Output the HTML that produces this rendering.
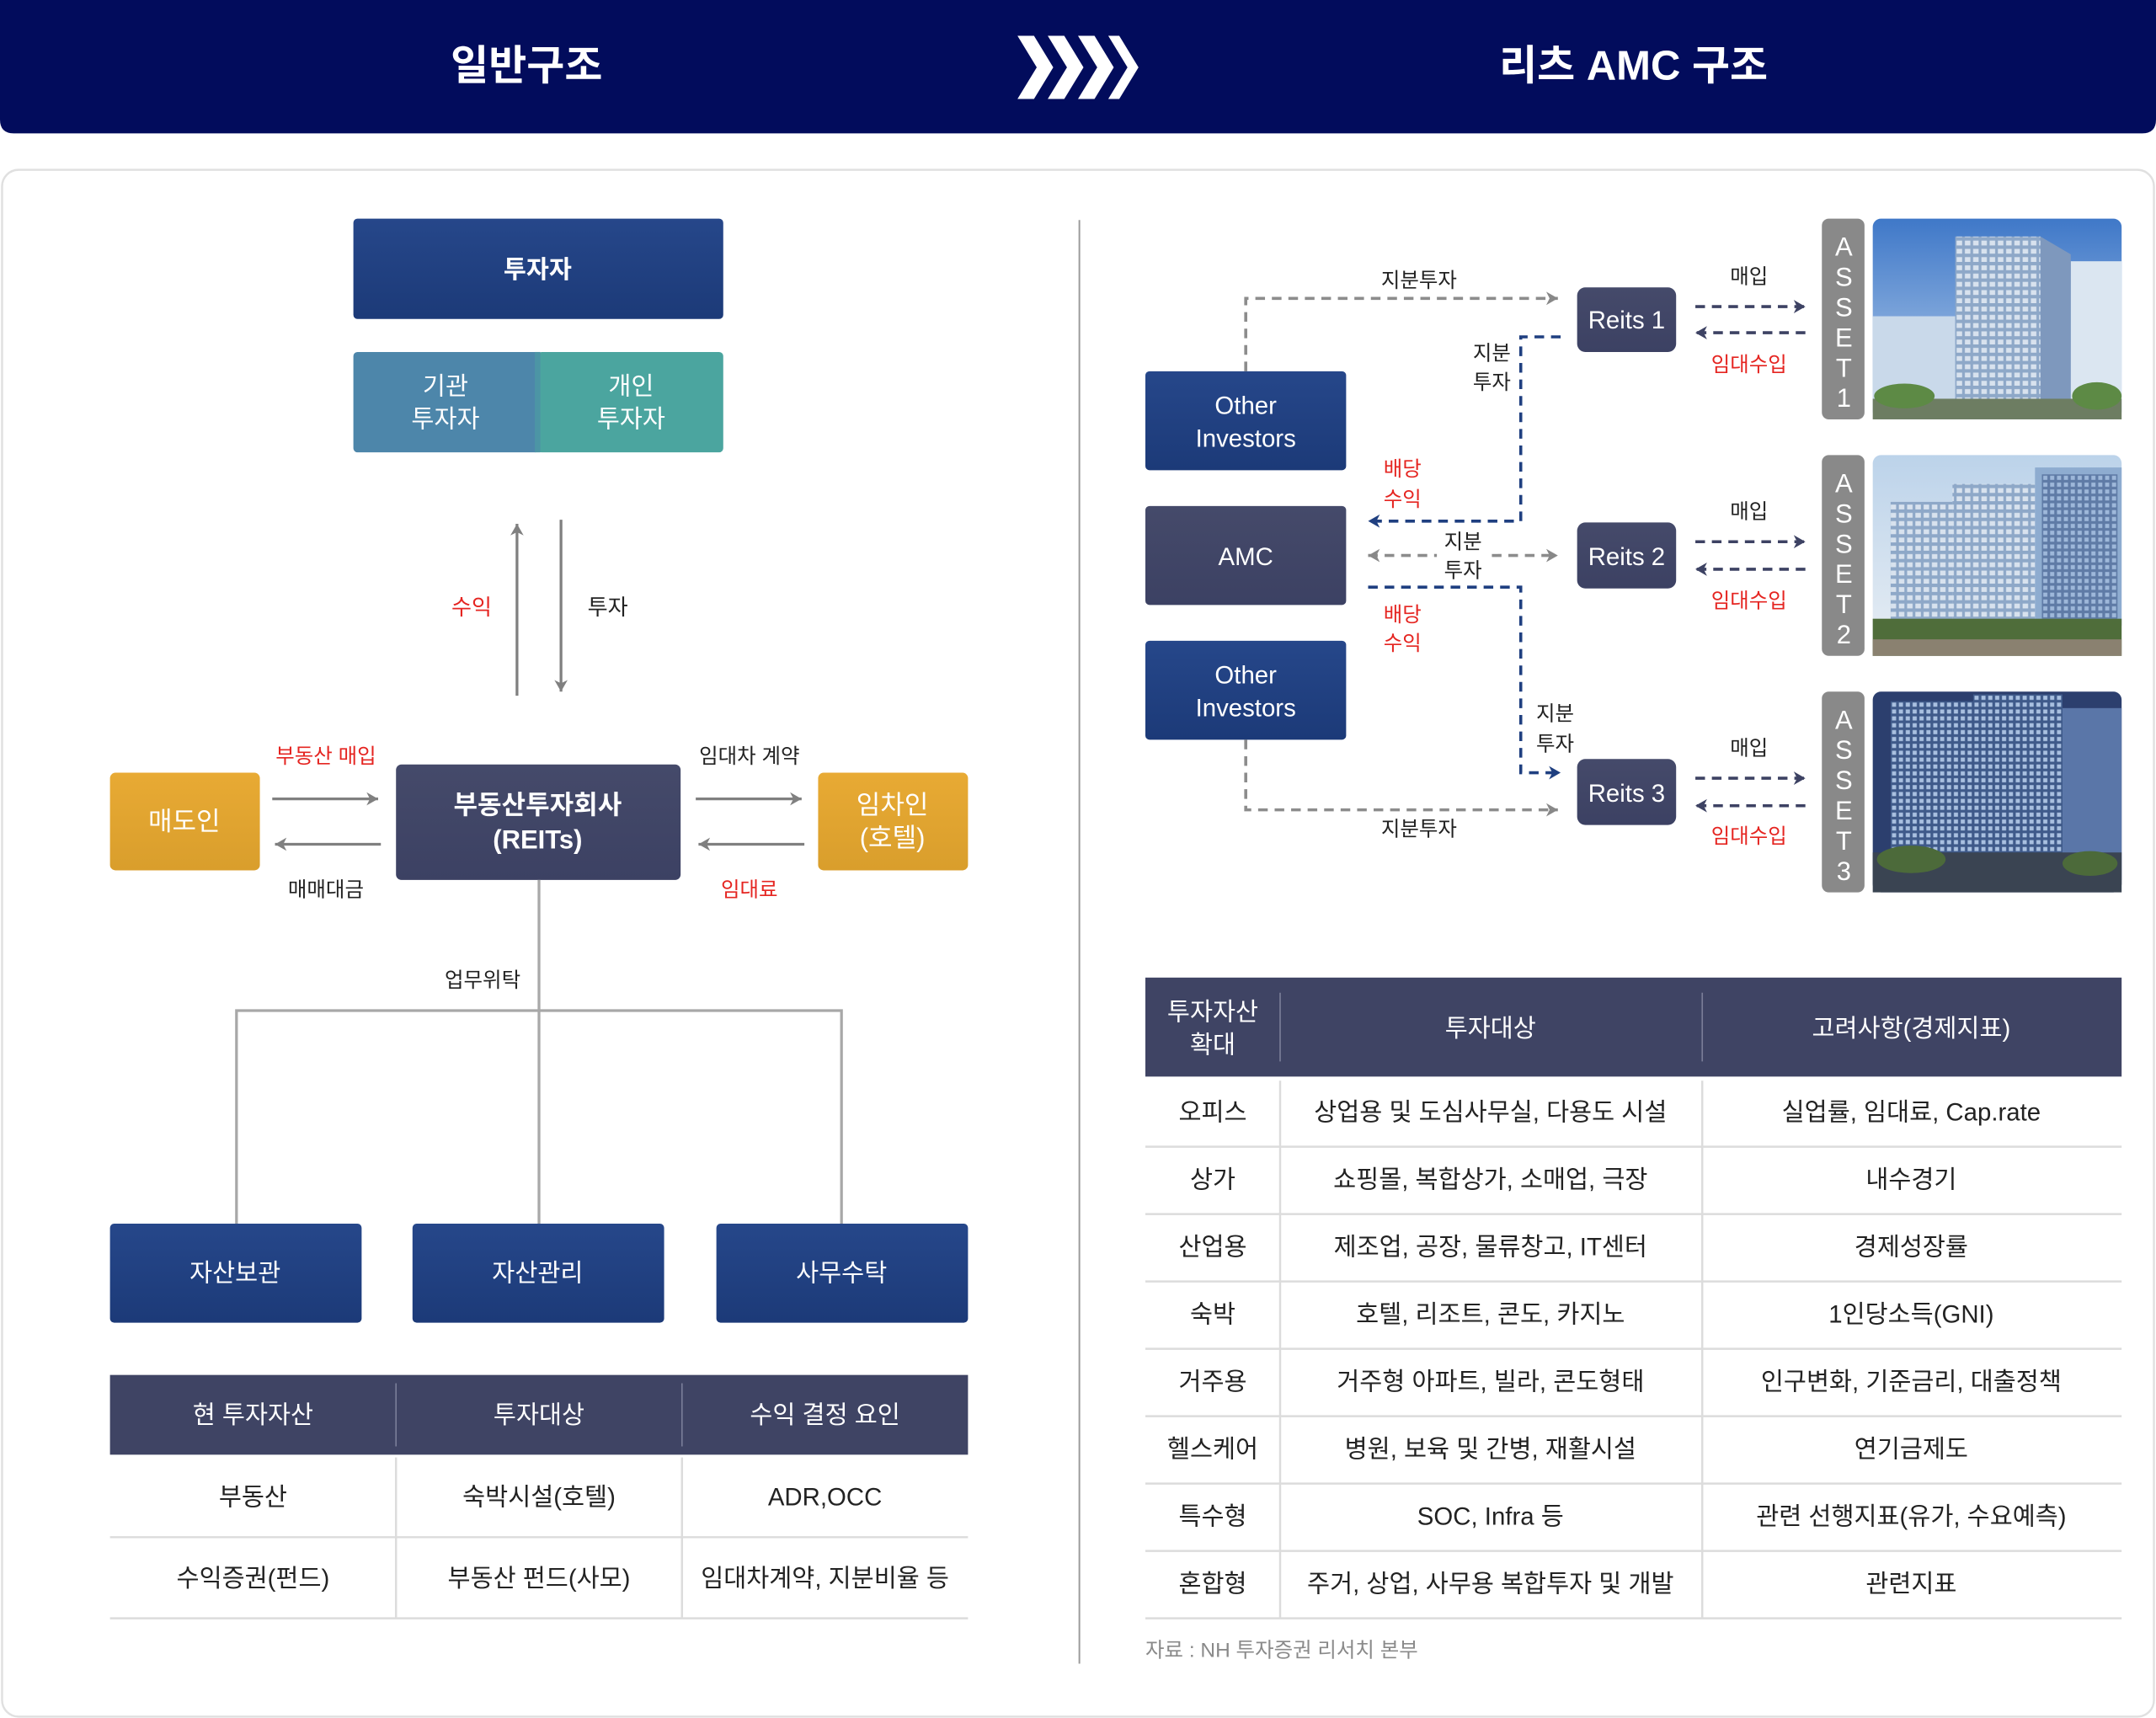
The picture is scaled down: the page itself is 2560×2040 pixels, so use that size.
<!DOCTYPE html>
<html><head><meta charset="utf-8"><style>
html,body{margin:0;padding:0;background:#fff;}
svg{display:block;}
text{font-family:"Liberation Sans","Noto Sans CJK KR",sans-serif;}
</style></head><body>
<svg width="2560" height="2040" viewBox="0 0 1568 1249.5" xmlns="http://www.w3.org/2000/svg">
<defs>
<linearGradient id="nv" x1="0" y1="0" x2="0" y2="1"><stop offset="0" stop-color="#26478a"/><stop offset="1" stop-color="#1c3a78"/></linearGradient>
<linearGradient id="sl" x1="0" y1="0" x2="0" y2="1"><stop offset="0" stop-color="#454a6a"/><stop offset="1" stop-color="#3c4163"/></linearGradient>
<linearGradient id="or" x1="0" y1="0" x2="0" y2="1"><stop offset="0" stop-color="#e8aa34"/><stop offset="1" stop-color="#d99e2c"/></linearGradient>
<linearGradient id="sky" x1="0" y1="0" x2="0" y2="1"><stop offset="0" stop-color="#3f78c8"/><stop offset="1" stop-color="#b8d0ec"/></linearGradient>
<linearGradient id="sky2" x1="0" y1="0" x2="0" y2="1"><stop offset="0" stop-color="#bcd3ea"/><stop offset="1" stop-color="#e8eef4"/></linearGradient>
<pattern id="win" width="6" height="6" patternUnits="userSpaceOnUse"><rect width="6" height="6" fill="#8ea8c8"/><rect x="1" y="1" width="4" height="3.5" fill="#d8e2ee"/></pattern>
<pattern id="win2" width="5" height="5" patternUnits="userSpaceOnUse"><rect width="5" height="5" fill="#3f5a8a"/><rect x="1" y="1" width="3" height="3" fill="#a9c0e0"/></pattern>
<marker id="ag" viewBox="0 0 10 10" refX="8" refY="5" markerWidth="5.5" markerHeight="5.5" orient="auto-start-reverse"><path d="M1,1 L8,5 L1,9 L3,5 Z" fill="#888"/></marker>
<marker id="an" viewBox="0 0 10 10" refX="8" refY="5" markerWidth="5.5" markerHeight="5.5" orient="auto-start-reverse"><path d="M1,1 L8,5 L1,9 L3,5 Z" fill="#1f3f80"/></marker>
<marker id="as" viewBox="0 0 10 10" refX="8" refY="5" markerWidth="5.5" markerHeight="5.5" orient="auto-start-reverse"><path d="M1,1 L8,5 L1,9 L3,5 Z" fill="#3d4263"/></marker>
<marker id="gl" viewBox="0 0 10 10" refX="8" refY="5" markerWidth="6" markerHeight="6" orient="auto-start-reverse"><path d="M1,1 L8,5 L1,9 L3,5 Z" fill="#808080"/></marker>
</defs>

<path d="M0,0 H1568 V87 Q1568,97 1558,97 H10 Q0,97 0,87 Z" fill="#020c5c"/>
<text x="383" y="58" font-size="30" font-weight="bold" fill="#fff" text-anchor="middle">일반구조</text>
<text x="1188" y="58" font-size="30" font-weight="bold" fill="#fff" text-anchor="middle">리츠 AMC 구조</text>
<g fill="#fff">
<path d="M740,26 h12 l14,23 l-14,23 h-12 l14,-23 z"/>
<path d="M762,26 h12 l14,23 l-14,23 h-12 l14,-23 z"/>
<path d="M784,26 h12 l14,23 l-14,23 h-12 l14,-23 z"/>
<path d="M806,26 h8 l14,23 l-14,23 h-8 l14,-23 z"/>
</g>

<rect x="1.5" y="123.5" width="1565" height="1125" rx="12" fill="#fff" stroke="#e0e0e0" stroke-width="1.5"/>

<rect x="257" y="159" width="269" height="73" rx="3" fill="url(#nv)"/>
<text x="391" y="202" font-size="18" font-weight="bold" fill="#fff" text-anchor="middle">투자자</text>
<rect x="257" y="256" width="135" height="73" rx="3" fill="#4d86aa"/>
<rect x="391" y="256" width="135" height="73" rx="3" fill="#4ba59f"/>
<rect x="389" y="256" width="4" height="73" fill="#4c95a5"/>
<g font-size="18" fill="#fff" text-anchor="middle">
<text x="324" y="287">기관</text><text x="324" y="311">투자자</text>
<text x="459" y="287">개인</text><text x="459" y="311">투자자</text>
</g>
<line x1="376" y1="506" x2="376" y2="381" stroke="#808080" stroke-width="2" marker-end="url(#gl)"/>
<line x1="408" y1="378" x2="408" y2="503" stroke="#808080" stroke-width="2" marker-end="url(#gl)"/>
<text x="343" y="447" font-size="16" fill="#e52521" text-anchor="middle">수익</text>
<text x="442" y="447" font-size="16" fill="#222" text-anchor="middle">투자</text>

<rect x="80" y="562" width="109" height="71" rx="4" fill="url(#or)"/>
<text x="134" y="604" font-size="19" fill="#fff" text-anchor="middle">매도인</text>
<rect x="288" y="556" width="207" height="84" rx="4" fill="url(#sl)"/>
<text x="391" y="592" font-size="19" font-weight="bold" fill="#fff" text-anchor="middle">부동산투자회사</text>
<text x="391" y="617" font-size="19" font-weight="bold" fill="#fff" text-anchor="middle">(REITs)</text>
<rect x="595" y="562" width="109" height="71" rx="4" fill="url(#or)"/>
<text x="649" y="592" font-size="19" fill="#fff" text-anchor="middle">임차인</text>
<text x="649" y="616" font-size="19" fill="#fff" text-anchor="middle">(호텔)</text>

<g stroke="#808080" stroke-width="2">
<line x1="198" y1="581" x2="275" y2="581" marker-end="url(#gl)"/>
<line x1="277" y1="614" x2="200" y2="614" marker-end="url(#gl)"/>
<line x1="506" y1="581" x2="583" y2="581" marker-end="url(#gl)"/>
<line x1="585" y1="614" x2="508" y2="614" marker-end="url(#gl)"/>
</g>
<text x="237" y="555" font-size="15" fill="#e52521" text-anchor="middle">부동산 매입</text>
<text x="237" y="652" font-size="15" fill="#222" text-anchor="middle">매매대금</text>
<text x="545" y="555" font-size="15" fill="#222" text-anchor="middle">임대차 계약</text>
<text x="545" y="652" font-size="15" fill="#e52521" text-anchor="middle">임대료</text>

<g stroke="#a8a8a8" stroke-width="2" fill="none">
<line x1="392" y1="640" x2="392" y2="890"/>
<polyline points="172,890 172,735 612,735 612,890"/>
</g>
<text x="351" y="718" font-size="15" fill="#222" text-anchor="middle">업무위탁</text>

<rect x="80" y="890" width="183" height="72" rx="3" fill="url(#nv)"/>
<rect x="300" y="890" width="183" height="72" rx="3" fill="url(#nv)"/>
<rect x="521" y="890" width="183" height="72" rx="3" fill="url(#nv)"/>
<g font-size="18" fill="#fff" text-anchor="middle">
<text x="171" y="932">자산보관</text><text x="391" y="932">자산관리</text><text x="612" y="932">사무수탁</text>
</g>

<rect x="80" y="1000" width="624" height="58" fill="#3f4464"/>
<g stroke="#7a7e98" stroke-width="1"><line x1="288" y1="1006" x2="288" y2="1052"/><line x1="496" y1="1006" x2="496" y2="1052"/></g>
<g font-size="18" fill="#fff" text-anchor="middle">
<text x="184" y="1035">현 투자자산</text><text x="392" y="1035">투자대상</text><text x="600" y="1035">수익 결정 요인</text>
</g>
<g stroke="#dcdcdc" stroke-width="1.5">
<line x1="80" y1="1118" x2="704" y2="1118"/><line x1="80" y1="1177" x2="704" y2="1177"/>
<line x1="288" y1="1060" x2="288" y2="1177"/><line x1="496" y1="1060" x2="496" y2="1177"/>
</g>
<g font-size="18" fill="#222" text-anchor="middle">
<text x="184" y="1095">부동산</text><text x="392" y="1095">숙박시설(호텔)</text><text x="600" y="1095">ADR,OCC</text>
<text x="184" y="1154">수익증권(펀드)</text><text x="392" y="1154">부동산 펀드(사모)</text><text x="600" y="1154">임대차계약, 지분비율 등</text>
</g>

<line x1="785" y1="160" x2="785" y2="1210" stroke="#9a9a9a" stroke-width="1.2"/>

<rect x="833" y="270" width="146" height="72" rx="3" fill="url(#nv)"/>
<rect x="833" y="368" width="146" height="72" rx="3" fill="url(#sl)"/>
<rect x="833" y="466" width="146" height="72" rx="3" fill="url(#nv)"/>
<g font-size="18" fill="#fff" text-anchor="middle">
<text x="906" y="301">Other</text><text x="906" y="325">Investors</text>
<text x="906" y="411">AMC</text>
<text x="906" y="497">Other</text><text x="906" y="521">Investors</text>
</g>
<g fill="url(#sl)">
<rect x="1147" y="209" width="72" height="47" rx="6"/>
<rect x="1147" y="380" width="72" height="48" rx="6"/>
<rect x="1147" y="552" width="72" height="48" rx="6"/>
</g>
<g font-size="18" fill="#fff" text-anchor="middle">
<text x="1183" y="239">Reits 1</text><text x="1183" y="411">Reits 2</text><text x="1183" y="583">Reits 3</text>
</g>

<g fill="none" stroke-width="2.2" stroke-dasharray="7,5">
<polyline points="906,270 906,217 1133,217" stroke="#8c8c8c" marker-end="url(#ag)"/>
<polyline points="906,538 906,589 1133,589" stroke="#8c8c8c" marker-end="url(#ag)"/>
<line x1="995" y1="404" x2="1045" y2="404" stroke="#8c8c8c" marker-start="url(#ag)"/>
<line x1="1085" y1="404" x2="1133" y2="404" stroke="#8c8c8c" marker-end="url(#ag)"/>
<polyline points="1135,245 1106,245 1106,379 995,379" stroke="#1f3f80" marker-end="url(#an)"/>
<polyline points="995,427 1106,427 1106,562 1135,562" stroke="#1f3f80" marker-end="url(#an)"/>
<line x1="1233" y1="223" x2="1313" y2="223" stroke="#3d4263" marker-end="url(#as)"/>
<line x1="1313" y1="242" x2="1233" y2="242" stroke="#3d4263" marker-end="url(#as)"/>
<line x1="1233" y1="394" x2="1313" y2="394" stroke="#3d4263" marker-end="url(#as)"/>
<line x1="1313" y1="414" x2="1233" y2="414" stroke="#3d4263" marker-end="url(#as)"/>
<line x1="1233" y1="566" x2="1313" y2="566" stroke="#3d4263" marker-end="url(#as)"/>
<line x1="1313" y1="586" x2="1233" y2="586" stroke="#3d4263" marker-end="url(#as)"/>
</g>
<g font-size="15" fill="#222" text-anchor="middle">
<text x="1032" y="209">지분투자</text>
<text x="1032" y="608">지분투자</text>
<text x="1085" y="262">지분</text><text x="1085" y="283">투자</text>
<text x="1064" y="399">지분</text><text x="1064" y="420">투자</text>
<text x="1131" y="524">지분</text><text x="1131" y="546">투자</text>
<text x="1272" y="206">매입</text><text x="1272" y="377">매입</text><text x="1272" y="549">매입</text>
</g>
<g font-size="15" fill="#e52521" text-anchor="middle">
<text x="1020" y="346">배당</text><text x="1020" y="368">수익</text>
<text x="1020" y="452">배당</text><text x="1020" y="473">수익</text>
<text x="1272" y="270">임대수입</text><text x="1272" y="442">임대수입</text><text x="1272" y="613">임대수입</text>
</g>

<g fill="#898989">
<rect x="1325" y="159" width="31" height="146" rx="5"/>
<rect x="1325" y="331" width="31" height="146" rx="5"/>
<rect x="1325" y="503" width="31" height="146" rx="5"/>
</g>
<g font-size="19" fill="#fff" text-anchor="middle">
<text x="1341" y="186">A</text><text x="1341" y="208">S</text><text x="1341" y="230">S</text><text x="1341" y="252">E</text><text x="1341" y="274">T</text><text x="1341" y="296">1</text>
<text x="1341" y="358">A</text><text x="1341" y="380">S</text><text x="1341" y="402">S</text><text x="1341" y="424">E</text><text x="1341" y="446">T</text><text x="1341" y="468">2</text>
<text x="1341" y="530">A</text><text x="1341" y="552">S</text><text x="1341" y="574">S</text><text x="1341" y="596">E</text><text x="1341" y="618">T</text><text x="1341" y="640">3</text>
</g>
<g>
<rect x="1362" y="159" width="181" height="146" rx="6" fill="url(#sky)"/>
<rect x="1362" y="230" width="60" height="70" fill="#c9d9ea"/>
<rect x="1506" y="190" width="37" height="110" fill="#dbe6f1"/>
<rect x="1422" y="172" width="62" height="126" fill="url(#win)"/>
<polygon points="1484,172 1506,185 1506,292 1484,298" fill="#7e98bd"/>
<rect x="1362" y="290" width="181" height="15" fill="#6d7d62"/>
<ellipse cx="1385" cy="288" rx="22" ry="9" fill="#5d8a45"/>
<ellipse cx="1525" cy="288" rx="18" ry="10" fill="#5d8a45"/>
</g>
<g>
<rect x="1362" y="331" width="181" height="146" rx="6" fill="url(#sky2)"/>
<rect x="1375" y="365" width="45" height="95" fill="url(#win)"/>
<rect x="1420" y="352" width="60" height="105" fill="url(#win)"/>
<rect x="1480" y="340" width="63" height="115" fill="#8eacd0"/>
<rect x="1485" y="345" width="55" height="105" fill="url(#win2)" opacity="0.6"/>
<rect x="1362" y="450" width="181" height="27" fill="#4f6d3a"/>
<rect x="1362" y="465" width="181" height="12" fill="#8a8170"/>
</g>
<g>
<rect x="1362" y="503" width="181" height="146" rx="6" fill="#2c3f6e"/>
<rect x="1375" y="510" width="60" height="130" fill="url(#win2)"/>
<rect x="1435" y="505" width="65" height="135" fill="url(#win2)"/>
<rect x="1500" y="515" width="43" height="125" fill="#5a76a8"/>
<rect x="1362" y="620" width="181" height="29" fill="#3a4452"/>
<ellipse cx="1390" cy="625" rx="25" ry="10" fill="#4c6a3a"/>
<ellipse cx="1520" cy="628" rx="20" ry="9" fill="#4c6a3a"/>
</g>

<rect x="833" y="711" width="710" height="72" fill="#3f4464"/>
<g stroke="#7a7e98" stroke-width="1"><line x1="931" y1="722" x2="931" y2="772"/><line x1="1238" y1="722" x2="1238" y2="772"/></g>
<g font-size="18" fill="#fff" text-anchor="middle">
<text x="882" y="742">투자자산</text><text x="882" y="766">확대</text>
<text x="1084" y="754">투자대상</text><text x="1390" y="754">고려사항(경제지표)</text>
</g>
<g stroke="#dcdcdc" stroke-width="1.5">
<line x1="833" y1="834" x2="1543" y2="834"/><line x1="833" y1="883" x2="1543" y2="883"/>
<line x1="833" y1="932" x2="1543" y2="932"/><line x1="833" y1="981" x2="1543" y2="981"/>
<line x1="833" y1="1030" x2="1543" y2="1030"/><line x1="833" y1="1079" x2="1543" y2="1079"/>
<line x1="833" y1="1128" x2="1543" y2="1128"/><line x1="833" y1="1177" x2="1543" y2="1177"/>
<line x1="931" y1="786" x2="931" y2="1177"/><line x1="1238" y1="786" x2="1238" y2="1177"/>
</g>
<g font-size="18" fill="#222" text-anchor="middle">
<text x="882" y="815">오피스</text><text x="1084" y="815">상업용 및 도심사무실, 다용도 시설</text><text x="1390" y="815">실업률, 임대료, Cap.rate</text>
<text x="882" y="864">상가</text><text x="1084" y="864">쇼핑몰, 복합상가, 소매업, 극장</text><text x="1390" y="864">내수경기</text>
<text x="882" y="913">산업용</text><text x="1084" y="913">제조업, 공장, 물류창고, IT센터</text><text x="1390" y="913">경제성장률</text>
<text x="882" y="962">숙박</text><text x="1084" y="962">호텔, 리조트, 콘도, 카지노</text><text x="1390" y="962">1인당소득(GNI)</text>
<text x="882" y="1011">거주용</text><text x="1084" y="1011">거주형 아파트, 빌라, 콘도형태</text><text x="1390" y="1011">인구변화, 기준금리, 대출정책</text>
<text x="882" y="1060">헬스케어</text><text x="1084" y="1060">병원, 보육 및 간병, 재활시설</text><text x="1390" y="1060">연기금제도</text>
<text x="882" y="1109">특수형</text><text x="1084" y="1109">SOC, Infra 등</text><text x="1390" y="1109">관련 선행지표(유가, 수요예측)</text>
<text x="882" y="1158">혼합형</text><text x="1084" y="1158">주거, 상업, 사무용 복합투자 및 개발</text><text x="1390" y="1158">관련지표</text>
</g>
<text x="833" y="1205" font-size="15" fill="#8a8a8a">자료 : NH 투자증권 리서치 본부</text>
</svg>
</body></html>
